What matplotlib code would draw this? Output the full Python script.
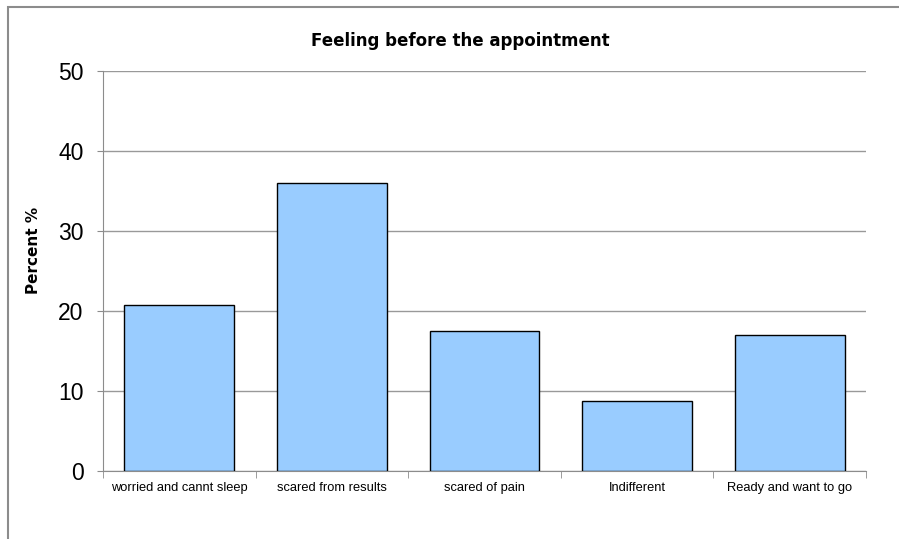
import numpy as np
import matplotlib
matplotlib.use('Agg')
import matplotlib.pyplot as plt
from matplotlib.patches import Rectangle

plt.rcParams['font.family'] = ['Liberation Sans', 'DejaVu Sans']

categories = ['worried and cannt sleep', 'scared from results', 'scared of pain',
              'Indifferent', 'Ready and want to go']
percent = [20.75, 36.0, 17.5, 8.75, 17.0]
yticks = [0, 10, 20, 30, 40, 50]

W, H = 899, 539
fig = plt.figure(figsize=(W / 100, H / 100), dpi=100)

# outer chart frame (runs off right/bottom edge like the source screenshot)
fig.patches.append(Rectangle((8 / W, -0.1), 1.2, (H - 7) / H + 0.1,
                             transform=fig.transFigure, fill=False,
                             edgecolor='#8c8c8c', linewidth=1.5))

ax = fig.add_axes([103 / W, 68 / H, (866 - 103) / W, (471 - 71) / H])

x = np.arange(len(categories))
ax.bar(x, percent, width=0.72, color='#99ccff', edgecolor='black',
       linewidth=1.0, zorder=3)

ax.set_xlim(-0.5, len(categories) - 0.5)
ax.set_ylim(0, 50)
ax.set_yticks(yticks)
ax.set_yticklabels([str(v) for v in yticks], fontsize=16.5)
ax.tick_params(axis='y', direction='out', length=4.3, color='#8c8c8c', pad=9.7)

ax.set_xticks(x)
ax.set_xticklabels(categories, fontsize=9.3)
ax.tick_params(axis='x', length=0, pad=8)
ax.set_xticks(np.arange(-0.5, len(categories)), minor=True)
ax.tick_params(axis='x', which='minor', direction='out', length=5, color='#8c8c8c')

ax.yaxis.grid(True, color='#999999', linewidth=1.0, zorder=0)
for s in ['top', 'right']:
    ax.spines[s].set_visible(False)
ax.spines['left'].set_color('#8c8c8c')
ax.spines['bottom'].set_color('#8c8c8c')
ax.spines['left'].set_zorder(4)

fig.text(460 / W, 1 - 46 / H, 'Feeling before the appointment', fontsize=12,
         family='DejaVu Sans', fontweight='bold', ha='center', va='baseline')
fig.text(33 / W, 1 - 250 / H, 'Percent %', fontsize=11, family='DejaVu Sans',
         fontweight='bold', rotation=90, ha='center', va='center')

fig.savefig('out.png', dpi=100)
